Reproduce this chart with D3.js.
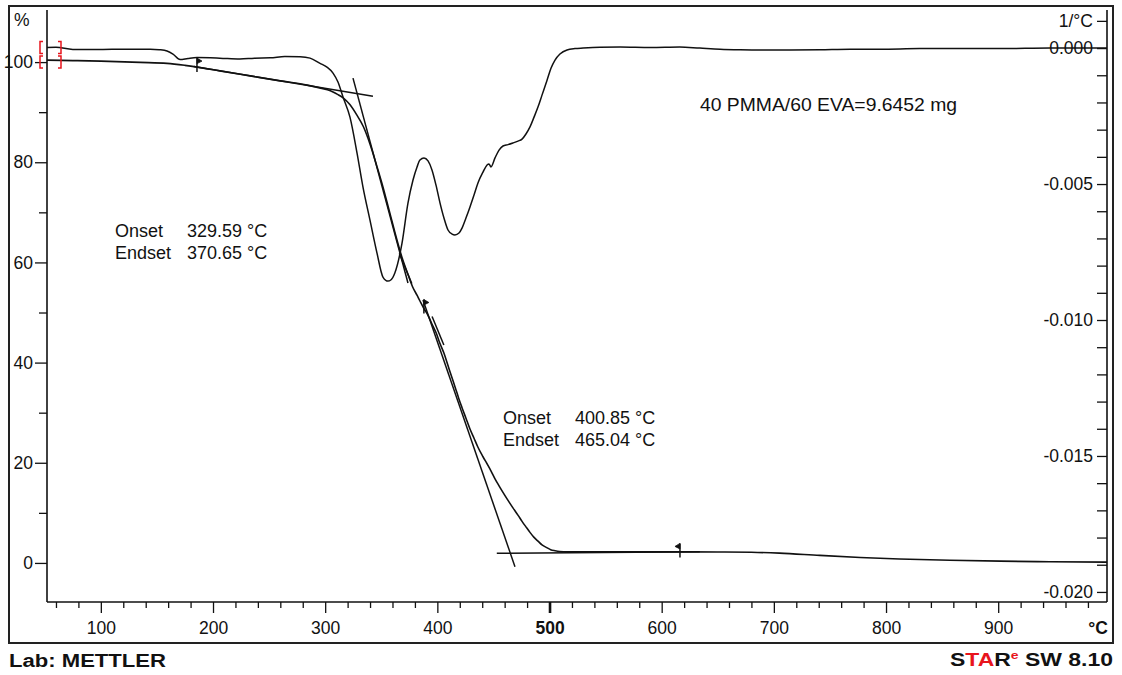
<!DOCTYPE html>
<html><head><meta charset="utf-8">
<script src="https://cdn.jsdelivr.net/npm/d3@7"></script>
<style>
html,body{margin:0;padding:0;background:#fff;}
svg{display:block;font-family:"Liberation Sans",Arial,Helvetica,sans-serif;}
</style></head><body>
<svg id="chart" width="1122" height="675"></svg>
<script>
// TGA mass curve: [temperature °C, mass %]
const tgaCurve = [[52,100.40],[75,100.30],[100,100.20],[135,99.95],[159,99.75],[175,99.35],[186,99.00],[206,98.25],[233,97.25],[260,96.25],[284,95.40],[295,94.85],[302,94.46],[307,94.02],[311,93.55],[316,92.86],[322,91.52],[328,89.51],[334,87.14],[340,83.62],[346,79.27],[351.5,75.07],[356,71.27],[358.5,69.14],[362,66.14],[368.5,61.0],[374,57.5],[378,55.1],[382,53.4],[384.5,52.3],[388,50.8],[392,49.3],[395,47.8],[399,45.9],[402,44.0],[406,41.8],[409.5,39.4],[413,37.0],[416,35.0],[419,32.9],[422,31.0],[425.5,28.9],[429,26.8],[432.7,24.9],[436,23.2],[440.7,21.2],[444.3,19.8],[448,18.3],[451.4,16.8],[455,15.4],[458.5,14.1],[463,12.5],[467.4,11.0],[472,9.5],[475.5,8.3],[479,7.2],[482.6,6.1],[486,5.15],[490,4.3],[493.3,3.6],[498,3.0],[501,2.65],[505,2.44],[509,2.29],[516,2.20],[540,2.20],[580,2.21],[620,2.20],[650,2.18],[680,2.12],[705,1.95],[741,1.50],[777,1.10],[812,0.80],[857,0.54],[902,0.36],[946,0.24],[997,0.16]];

// DTG (first derivative) curve: [temperature °C, 1/°C]
const dtgCurve = [[52,0.00002],[60,0.00003],[75,-0.00005],[100,-0.00005],[120,-0.00004],[144,-0.00004],[152,-0.00006],[159,-0.00011],[164.3,-0.00022],[170.6,-0.00042],[177.7,-0.00038],[185.7,-0.00035],[206,-0.00037],[224,-0.0004],[237,-0.00037],[251,-0.00036],[264,-0.00031],[277.6,-0.00032],[286.5,-0.00037],[295.4,-0.00056],[301.6,-0.0007],[307,-0.00092],[311.4,-0.00125],[315.9,-0.0018],[322.1,-0.00254],[328.4,-0.00386],[333.7,-0.00511],[339.9,-0.00632],[346.2,-0.00754],[351.5,-0.00842],[356,-0.00857],[358.5,-0.00853],[362.1,-0.00827],[368.5,-0.00717],[373.8,-0.0057],[378.3,-0.00485],[381.9,-0.00437],[384.5,-0.00412],[388.1,-0.00404],[391.7,-0.00415],[395.2,-0.00448],[398.8,-0.00504],[402.4,-0.0057],[405.9,-0.00625],[409.5,-0.00669],[413.1,-0.00684],[415.7,-0.00687],[419.3,-0.0068],[422,-0.00662],[425.5,-0.00625],[429.1,-0.00584],[432.7,-0.0054],[436.2,-0.00496],[440.7,-0.00456],[444.3,-0.0043],[446,-0.00426],[447.8,-0.00437],[451.4,-0.00404],[455,-0.00375],[458.5,-0.0036],[463,-0.00355],[467.4,-0.00349],[471.9,-0.00342],[475.5,-0.00335],[479,-0.00316],[482.6,-0.0029],[486.2,-0.00254],[489.7,-0.00217],[493.3,-0.00173],[497.8,-0.00118],[501.3,-0.00074],[504.9,-0.00044],[509.3,-0.00022],[515.6,-0.00007],[522.7,-0.00002],[530,0],[545,0.00003],[563,0.00004],[590,0.00002],[616,0.00004],[634,0],[652,-0.00004],[670,-0.00006],[688,-0.00007],[714,-0.00007],[741,-0.00006],[768,-0.00004],[795,-0.00004],[830,-0.00002],[866,-0.00002],[902,-0.00002],[946,0],[997,0]];

// Onset / endset construction lines on the TGA curve: [[T1, %1], [T2, %2]]
const tangentLines = [
  [[183,99.1],[342.6,93.2]],
  [[324.8,96.8],[373.8,55.9]],
  [[366.1,61.8],[377.2,55.8]],
  [[395.3,49.2],[405.8,43.5]],
  [[387.2,52.5],[469.2,-0.75]],
  [[453,1.92],[634,2.22]]
];

// Evaluation limit markers on the TGA curve
const markerTemp = [185.7, 388, 616.3];
const markerMass = [99.0, 50.8, 2.1];
const markerSide = [1, 1, -1];

// Tick values
const xMajor = [100,200,300,400,500,600,700,800,900];
const xMinor = d3.range(60, 997, 20).filter(v => v % 100 !== 0);
const yLeftMajor = [0,20,40,60,80,100];
const yLeftMinor = [10,30,50,70,90];
const yRightTicks = d3.range(-20, 2).map(v => v / 1000);

// Evaluation results
const evalLabels = ["Onset", "Endset"];
const evalStep1 = ["329.59 °C", "370.65 °C"];
const evalStep2 = ["400.85 °C", "465.04 °C"];
const sampleLabel = "40 PMMA/60 EVA=9.6452 mg";

const FONT = '"Liberation Sans", Arial, Helvetica, sans-serif';
const INK = '#111';

const svg = d3.select('#chart');

const x = d3.scaleLinear().domain([52, 997]).range([47, 1107]);
const yL = d3.scaleLinear().domain([-7.8, 110.4]).range([602, 10]);
const yR = d3.scaleLinear().domain([-0.02037, 0.0014]).range([602, 10]);

// outer frame
svg.append('rect').attr('x', 9).attr('y', 6).attr('width', 1104).attr('height', 637)
  .attr('fill', 'none').attr('stroke', '#222').attr('stroke-width', 2);

function styleAxis(g) {
  g.attr('font-family', FONT).attr('font-size', 17.5).attr('color', INK);
  g.select('.domain').remove();
  g.selectAll('.tick line').attr('stroke-width', 1.3);
}

// x axis
svg.append('g').attr('transform', 'translate(0,602)')
  .call(d3.axisBottom(x).tickValues(xMinor).tickSize(6).tickFormat(''))
  .call(styleAxis);
const xAx = svg.append('g').attr('transform', 'translate(0,602)')
  .call(d3.axisBottom(x).tickValues(xMajor).tickSize(11).tickPadding(9).tickFormat(d3.format('d')))
  .call(styleAxis);
xAx.selectAll('.tick').filter(d => d === 500)
  .call(t => t.select('line').attr('stroke-width', 2.6))
  .call(t => t.select('text').attr('font-weight', 'bold'));
svg.append('line').attr('x1', x.range()[0]).attr('x2', x.range()[1]).attr('y1', 602).attr('y2', 602)
  .attr('stroke', INK).attr('stroke-width', 1.6);
svg.append('text').attr('x', 1108).attr('y', 634).attr('text-anchor', 'end')
  .attr('font-family', FONT).attr('font-size', 17.5).attr('font-weight', 'bold').attr('fill', INK).text('°C');

// left axis (mass %)
svg.append('g').attr('transform', 'translate(47,0)')
  .call(d3.axisLeft(yL).tickValues(yLeftMinor).tickSize(8).tickFormat(''))
  .call(styleAxis);
svg.append('g').attr('transform', 'translate(47,0)')
  .call(d3.axisLeft(yL).tickValues(yLeftMajor).tickSize(12).tickPadding(2).tickFormat(d3.format('d')))
  .call(styleAxis);
svg.append('line').attr('x1', 47).attr('x2', 47).attr('y1', yL.range()[1]).attr('y2', 602)
  .attr('stroke', INK).attr('stroke-width', 1.6);
svg.append('text').attr('x', 14).attr('y', 26)
  .attr('font-family', FONT).attr('font-size', 17.5).attr('fill', INK).text('%');

// right axis (1/°C)
const fmtR = d => {
  const k = Math.round(d * 1000);
  if (k === 1) return '1/°C';
  if (k % 5 !== 0) return '';
  return (k < 0 ? '-' : '') + Math.abs(d).toFixed(3);
};
svg.append('g').attr('transform', 'translate(1107,0)')
  .call(d3.axisLeft(yR).tickValues(yRightTicks).tickSize(10).tickPadding(4).tickFormat(fmtR))
  .call(styleAxis);
svg.append('line').attr('x1', 1107).attr('x2', 1107).attr('y1', yR.range()[1]).attr('y2', 602)
  .attr('stroke', INK).attr('stroke-width', 1.6);

// curves
const lineL = d3.line().x(d => x(d[0])).y(d => yL(d[1])).curve(d3.curveMonotoneX);
const lineR = d3.line().x(d => x(d[0])).y(d => yR(d[1])).curve(d3.curveMonotoneX);

svg.append('path').datum(dtgCurve).attr('d', lineR)
  .attr('fill', 'none').attr('stroke', INK).attr('stroke-width', 1.5).attr('stroke-linejoin', 'round');
svg.append('path').datum(tgaCurve).attr('d', lineL)
  .attr('fill', 'none').attr('stroke', INK).attr('stroke-width', 1.6).attr('stroke-linejoin', 'round');

// construction lines
const segLine = d3.line().x(d => x(d[0])).y(d => yL(d[1]));
svg.append('g').selectAll('path').data(tangentLines).join('path')
  .attr('d', segLine).attr('fill', 'none').attr('stroke', INK).attr('stroke-width', 1.5);

// evaluation limit markers
const mk = svg.append('g');
markerTemp.forEach((t, i) => {
  const mx = x(t), my = yL(markerMass[i]), s = markerSide[i];
  mk.append('line').attr('x1', mx).attr('x2', mx).attr('y1', my - 9).attr('y2', my + 5)
    .attr('stroke', INK).attr('stroke-width', 1.5);
  mk.append('path')
    .attr('d', `M${mx},${my - 9} L${mx + 5 * s},${my - 6} L${mx},${my - 3.5} Z`)
    .attr('fill', INK).attr('stroke', INK).attr('stroke-width', 0.8);
});

// curve start brackets
const brackets = svg.append('g').attr('stroke', '#e8141c').attr('stroke-width', 1.5).attr('fill', 'none');
[[dtgCurve[0], yR, 0], [tgaCurve[0], yL, 2]].forEach(([p, sc, off]) => {
  const cy = sc(p[1]) + off;
  const xl = 40, xr = 61, h = 6;
  brackets.append('path').attr('d', `M${xl + 3},${cy - h} H${xl} V${cy + h} H${xl + 3}`);
  brackets.append('path').attr('d', `M${xr - 3},${cy - h} H${xr} V${cy + h} H${xr - 3}`);
});

// annotation text
const txt = (tx, ty, s) => svg.append('text').attr('x', tx).attr('y', ty)
  .attr('font-family', FONT).attr('font-size', 18).attr('fill', INK).text(s);
evalLabels.forEach((lab, i) => {
  txt(115, 237 + i * 22, lab);
  txt(187, 237 + i * 22, evalStep1[i]);
  txt(503, 424 + i * 22, lab);
  txt(575, 424 + i * 22, evalStep2[i]);
});
txt(700, 111, sampleLabel).attr('textLength', 257).attr('lengthAdjust', 'spacingAndGlyphs');

// footer
svg.append('text').attr('x', 9).attr('y', 667)
  .attr('font-family', FONT).attr('font-size', 18).attr('font-weight', 'bold').attr('fill', INK)
  .attr('textLength', 157).attr('lengthAdjust', 'spacingAndGlyphs').text('Lab: METTLER');

const star = svg.append('text').attr('x', 950).attr('y', 666)
  .attr('font-family', FONT).attr('font-size', 18).attr('font-weight', 'bold').attr('fill', INK)
  .attr('textLength', 163).attr('lengthAdjust', 'spacingAndGlyphs');
star.append('tspan').text('S');
star.append('tspan').attr('fill', '#e8141c').text('TA');
star.append('tspan').text('R');
star.append('tspan').attr('fill', '#e8141c').attr('font-size', 11).attr('dy', -7).text('e');
star.append('tspan').attr('dy', 7).text(' SW 8.10');
</script>
</body></html>
